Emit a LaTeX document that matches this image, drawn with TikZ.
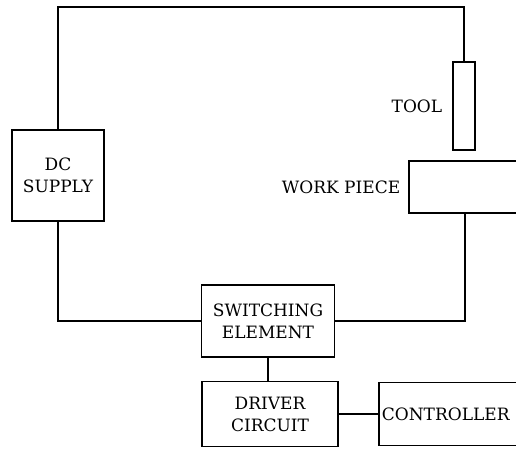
\documentclass[tikz,border=0pt]{standalone}
\usepackage{fontspec}
\setmainfont{DejaVu Serif}
\usepackage{tikz}

\begin{document}
\begin{tikzpicture}[x=1pt,y=1pt,line width=1.8pt,
  blk/.style={draw,rectangle,inner sep=0pt,align=center,font=\fontsize{17}{22}\selectfont},
  lbl/.style={inner sep=0pt,font=\fontsize{17}{22}\selectfont}]
\useasboundingbox (0,0) rectangle (516,450);
\node[blk,minimum width=92,minimum height=91] (dc) at (58,274.5) {DC\\SUPPLY};
\node[blk,minimum width=22,minimum height=88] (tool) at (464,344) {};
\node[blk,minimum width=112,minimum height=52] (work) at (465,263) {};
\node[blk,minimum width=133,minimum height=72] (sw) at (268,129) {SWITCHING\\ELEMENT};
\node[blk,minimum width=136,minimum height=65] (drv) at (270,36) {DRIVER\\CIRCUIT};
\node[blk,minimum width=160,minimum height=63,anchor=west,align=left,text width=160] (ctrl) at (378,36) {\hspace{3pt}CONTROLLER};
\node[lbl,anchor=east] (toollbl) at ([xshift=-9pt]tool.west) {TOOL};
\node[lbl,anchor=east] (worklbl) at ([xshift=-7pt]work.west) {WORK PIECE};
\coordinate (top) at (58,443);
\draw (dc.north) -- (top) -| (tool.north);
\draw (dc.south) |- (sw.west);
\draw (sw.east) -| (work.south);
\draw (sw.south) -- (sw.south |- drv.north);
\draw (drv.east) -- (ctrl.west);
\end{tikzpicture}
\end{document}
